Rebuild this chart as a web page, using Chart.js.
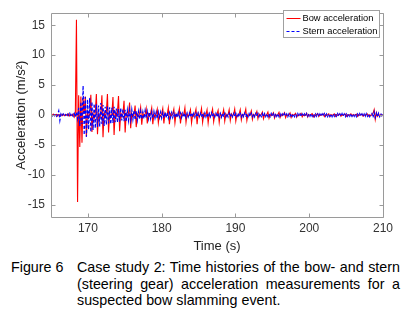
<!DOCTYPE html>
<html lang="en">
<head>
    <meta charset="UTF-8">
    <title>Bow and stern acceleration</title>
    <style>
        body { margin: 0; background: #fff; font-family: "Liberation Sans", Arial, sans-serif; }
        #wrap { position: relative; width: 410px; height: 323px; }
        canvas { position: absolute; left: 0; top: 0; }
        .fig { position: absolute; left: 11px; top: 259px; font-size: 14.3px; line-height: 16.7px; color: #000; }
        .cap { position: absolute; left: 77px; top: 259px; width: 323px; margin: 0; font-size: 14.3px; line-height: 16.7px; text-align: justify; color: #000; }
    </style>
    <script src="https://cdn.jsdelivr.net/npm/chart.js"></script>
</head>
<body>
    <div id="wrap">
        <canvas id="accChart" width="410" height="254"></canvas>
        <div class="fig">Figure 6</div>
        <p class="cap">Case study 2: Time histories of the bow- and stern (steering gear) acceleration measurements for a suspected bow slamming event.</p>
    </div>

    <script>
        // sampling: one value every 0.15 s from 165 s to 210 s
        const tStart = 165;
        const tStep = 0.15;

        // bow acceleration (m/s^2)
        const bowAcc = [
            0.1, -0.1, 0.15, -0.1, 0.05, 0.1, -0.15, 0.1, -0.05, 0.1,
            -0.1, 0.15, -0.1, 0.05, 0.1, -0.1, 0.2, -0.15, 0.05, -0.1,
            0.2, -0.3, 0.4, 15.9, -14.5, 3.3, -5.3, 3.1, -4.6, 2.8,
            0.3, 3.1, -3.6, 0.5, -0.4, 0.2, 3.4, -2.8, 0.3, -0.6,
            0.4, 3.5, -3.2, 0.2, -0.5, 0.3, 3.3, -3.7, 0.4, -0.3,
            0.5, 3.5, -2.9, 0.3, -0.4, 0.2, 3.0, -3.3, 0.5, -0.2,
            0.3, 3.2, -2.7, 0.4, -0.3, 0.2, 2.4, -2.9, 0.3, -0.2,
            0.2, 2.1, -2.2, 0.3, -0.3, 0.1, 1.6, -2.0, 0.2, -0.2,
            0.2, 1.3, -1.6, 0.3, -0.2, 0.1, 1.1, -1.4, 0.2, -0.2,
            0.3, 1.2, -1.5, 0.2, -0.3, 0.2, 1.0, -1.3, 0.1, -0.2,
            0.2, 1.1, -1.4, 0.3, -0.2, 0.1, 1.2, -1.5, 0.2, -0.1,
            0.2, 1.0, -1.3, 0.2, -0.2, 0.1, 1.1, -1.4, 0.2, -0.1,
            0.1, 1.2, -1.2, 0.2, -0.2, 0.2, 0.9, -1.3, 0.1, -0.2,
            0.2, 1.0, -1.5, 0.3, -0.1, 0.1, 1.1, -1.2, 0.2, -0.2,
            0.1, 0.9, -1.3, 0.2, -0.2, 0.2, 1.0, -1.1, 0.1, -0.1,
            0.2, 0.8, -1.2, 0.2, -0.1, 0.1, 0.9, -1.0, 0.2, -0.2,
            0.1, 0.9, -0.9, 0.2, -0.1, 0.1, 1.0, -1.0, 0.1, -0.2,
            0.2, 0.9, -0.8, 0.1, -0.1, 0.2, 1.0, -0.9, 0.1, -0.1,
            0.1, 0.7, -0.7, 0.1, -0.1, 0.1, 0.6, -0.6, 0.2, -0.1,
            0.1, 0.5, -0.6, 0.1, -0.1, 0.1, 0.5, -0.5, 0.1, -0.1,
            0.1, 0.4, -0.5, 0.1, -0.1, 0.1, 0.45, -0.4, 0.1, -0.1,
            0.1, 0.4, -0.4, 0.1, -0.1, 0.05, 0.35, -0.4, 0.1, -0.05,
            0.1, 0.3, -0.35, 0.05, -0.1, 0.1, 0.3, -0.3, 0.05, -0.1,
            0.05, 0.3, -0.3, 0.1, -0.05, 0.1, 0.25, -0.3, 0.05, -0.1,
            0.1, 0.25, -0.25, 0.05, -0.05, 0.1, 0.2, -0.25, 0.05, -0.05,
            0.05, 0.2, -0.25, 0.1, -0.05, 0.05, 0.2, -0.2, 0.1, -0.05,
            0.1, 0.2, -0.2, 0.05, -0.05, 0.1, 0.15, -0.2, 0.05, -0.05,
            0.05, 0.2, -0.15, 0.1, -0.05, 0.05, 0.15, -0.2, 0.1, -0.05,
            0.1, 0.15, -0.2, 0.05, -0.05, 0.1, 0.2, -0.15, 0.05, -0.1,
            0.1, 0.3, 0.9, -0.7, 0.4, -0.2, 0.2, -0.15, 0.1, -0.1,
            0.05
        ];

        // stern (steering gear) acceleration (m/s^2)
        const sternAcc = [
            0.1, -0.15, 0.2, -0.1, 0.15, -0.2, 0.1, 0.7, -0.9, 0.2,
            -0.1, 0.2, -0.15, 0.1, -0.2, 0.15, -0.1, 0.3, -0.2, 0.1,
            -0.2, 0.3, -0.3, 0.5, -0.6, 1.2, -1.8, 2.2, -1.5, 4.9,
            -3.3, 3.0, -3.6, 2.6, -2.4, 2.9, -2.8, 2.2, -2.5, 1.9,
            -2.2, 1.8, -2.0, 1.6, -1.9, 2.0, -1.5, 1.7, -1.8, 1.4,
            -1.6, 1.5, -1.4, 1.3, -1.5, 1.2, -1.3, 1.4, -1.2, 1.1,
            -1.2, 1.0, -1.1, 1.2, -0.9, 1.0, -1.0, 0.9, -1.1, 0.8,
            -0.9, 0.8, -0.8, 0.9, -0.7, 0.8, -0.8, 0.7, -0.8, 0.6,
            -0.7, 0.6, -0.7, 0.5, -0.6, 0.7, -0.5, 0.6, -0.6, 0.5,
            -0.6, 0.5, -0.5, 0.6, -0.5, 0.4, -0.6, 0.5, -0.4, 0.5,
            -0.5, 0.4, -0.5, 0.5, -0.4, 0.4, -0.5, 0.4, -0.4, 0.4,
            -0.4, 0.35, -0.4, 0.3, -0.35, 0.4, -0.3, 0.35, -0.4, 0.3,
            -0.35, 0.3, -0.4, 0.35, -0.3, 0.3, -0.35, 0.4, -0.3, 0.3,
            -0.35, 0.3, -0.3, 0.35, -0.3, 0.3, -0.35, 0.3, -0.3, 0.35,
            -0.3, 0.3, -0.35, 0.3, -0.3, 0.35, -0.3, 0.3, -0.3, 0.3,
            -0.3, 0.35, -0.3, 0.3, -0.35, 0.3, -0.3, 0.3, -0.3, 0.25,
            -0.3, 0.3, -0.25, 0.3, -0.3, 0.25, -0.3, 0.3, -0.25, 0.3,
            -0.3, 0.25, -0.3, 0.3, -0.25, 0.3, -0.3, 0.25, -0.3, 0.25,
            -0.25, 0.3, -0.25, 0.25, -0.3, 0.25, -0.25, 0.3, -0.25, 0.25,
            -0.25, 0.25, -0.3, 0.25, -0.25, 0.25, -0.25, 0.2, -0.25, 0.25,
            -0.25, 0.2, -0.25, 0.25, -0.2, 0.25, -0.25, 0.2, -0.25, 0.2,
            -0.2, 0.25, -0.2, 0.2, -0.25, 0.2, -0.2, 0.25, -0.2, 0.2,
            -0.25, 0.2, -0.2, 0.25, -0.2, 0.2, -0.25, 0.2, -0.2, 0.2,
            -0.2, 0.25, -0.2, 0.2, -0.2, 0.25, -0.2, 0.2, -0.25, 0.2,
            -0.2, 0.2, -0.25, 0.2, -0.2, 0.2, -0.2, 0.25, -0.2, 0.2,
            -0.25, 0.2, -0.2, 0.2, -0.25, 0.2, -0.2, 0.2, -0.2, 0.25,
            -0.2, 0.2, -0.2, 0.25, -0.2, 0.2, -0.25, 0.2, -0.2, 0.2,
            -0.2, 0.25, -0.2, 0.2, -0.2, 0.2, -0.25, 0.2, -0.2, 0.25,
            -0.2, 0.2, -0.25, 0.2, -0.2, 0.25, -0.2, 0.2, -0.25, 0.2,
            0.3, -0.4, 0.5, -0.4, 0.3, -0.3, 0.3, -0.25, 0.3, -0.3,
            0.1
        ];

        const xTicks = [170, 180, 190, 200, 210];
        const yTicks = [-15, -10, -5, 0, 5, 10, 15];
        const seriesNames = ['Bow acceleration', 'Stern acceleration'];

        const toPoints = vals => vals.map((v, i) => ({ x: +(tStart + i * tStep).toFixed(2), y: v }));

        // box, inward ticks on all four sides and the boxed legend (MATLAB look)
        const boxPlugin = {
            id: 'boxPlugin',
            afterDraw(chart) {
                const ctx = chart.ctx;
                const a = chart.chartArea;
                const sx = chart.scales.x, sy = chart.scales.y;
                const L = Math.round(a.left) + 0.5, R = Math.round(a.right) + 0.5;
                const T = Math.round(a.top) + 0.5, B = Math.round(a.bottom) + 0.5;
                ctx.save();
                ctx.strokeStyle = '#9a9a9a';
                ctx.lineWidth = 1;
                ctx.beginPath();
                ctx.moveTo(L, T); ctx.lineTo(R, T); ctx.lineTo(R, B); ctx.lineTo(L, B); ctx.closePath();
                sx.ticks.forEach(t => {
                    const px = Math.round(sx.getPixelForValue(t.value)) + 0.5;
                    ctx.moveTo(px, B); ctx.lineTo(px, B - 4);
                    ctx.moveTo(px, T); ctx.lineTo(px, T + 4);
                });
                sy.ticks.forEach(t => {
                    const py = Math.round(sy.getPixelForValue(t.value)) + 0.5;
                    ctx.moveTo(L, py); ctx.lineTo(L + 4, py);
                    ctx.moveTo(R, py); ctx.lineTo(R - 4, py);
                });
                ctx.stroke();

                // legend
                const bx = 283.5, by = 10.5, bw = 96, bh = 27;
                ctx.fillStyle = '#fff';
                ctx.fillRect(bx, by, bw, bh);
                ctx.strokeStyle = '#a0a0a0';
                ctx.strokeRect(bx, by, bw, bh);
                ctx.font = '9.3px "Liberation Sans", Arial, sans-serif';
                ctx.textBaseline = 'middle';
                ctx.fillStyle = '#000';
                chart.data.datasets.forEach((ds, i) => {
                    const yy = by + 7 + i * 13;
                    ctx.strokeStyle = ds.borderColor;
                    ctx.lineWidth = 1;
                    ctx.setLineDash(ds.borderDash || []);
                    ctx.beginPath();
                    ctx.moveTo(bx + 3, Math.round(yy) + 0.5);
                    ctx.lineTo(bx + 17, Math.round(yy) + 0.5);
                    ctx.stroke();
                    ctx.setLineDash([]);
                    ctx.fillText(ds.label, bx + 19, yy + 0.5);
                });
                ctx.restore();
            }
        };

        const keepTicks = list => scale => {
            scale.ticks = list.map(v => ({ value: v }));
        };

        const ctx = document.getElementById('accChart').getContext('2d');
        new Chart(ctx, {
            type: 'line',
            data: {
                datasets: [
                    {
                        label: seriesNames[0],
                        data: toPoints(bowAcc),
                        borderColor: '#ff0000',
                        borderWidth: 1.1,
                        pointRadius: 0,
                        tension: 0,
                        order: 1
                    },
                    {
                        label: seriesNames[1],
                        data: toPoints(sternAcc),
                        borderColor: '#0000ff',
                        borderWidth: 1.2,
                        borderDash: [3, 2],
                        pointRadius: 0,
                        tension: 0,
                        order: 0
                    }
                ]
            },
            options: {
                responsive: false,
                animation: false,
                devicePixelRatio: 1,
                layout: { padding: { top: 8, right: 27, left: 0, bottom: 0 } },
                plugins: {
                    legend: { display: false },
                    tooltip: { enabled: false }
                },
                scales: {
                    x: {
                        type: 'linear',
                        min: 165,
                        max: 210,
                        afterBuildTicks: keepTicks(xTicks),
                        afterFit: s => { s.height = 37; },
                        grid: { display: false, drawTicks: false },
                        border: { display: false },
                        ticks: {
                            color: '#333',
                            padding: 4,
                            maxRotation: 0,
                            font: { family: '"Liberation Sans", Arial, sans-serif', size: 12 }
                        },
                        title: {
                            display: true,
                            text: 'Time (s)',
                            color: '#222',
                            padding: { top: 0, bottom: 0 },
                            font: { family: '"Liberation Sans", Arial, sans-serif', size: 13 }
                        }
                    },
                    y: {
                        min: -17,
                        max: 17,
                        afterBuildTicks: keepTicks(yTicks),
                        afterFit: s => { s.width = 51; },
                        grid: { display: false, drawTicks: false },
                        border: { display: false },
                        ticks: {
                            color: '#333',
                            padding: 6,
                            font: { family: '"Liberation Sans", Arial, sans-serif', size: 12 }
                        },
                        title: {
                            display: true,
                            text: 'Acceleration (m/s²)',
                            color: '#222',
                            padding: { top: 14, bottom: 0 },
                            font: { family: '"Liberation Sans", Arial, sans-serif', size: 13 }
                        }
                    }
                }
            },
            plugins: [boxPlugin]
        });
    </script>
</body>
</html>
